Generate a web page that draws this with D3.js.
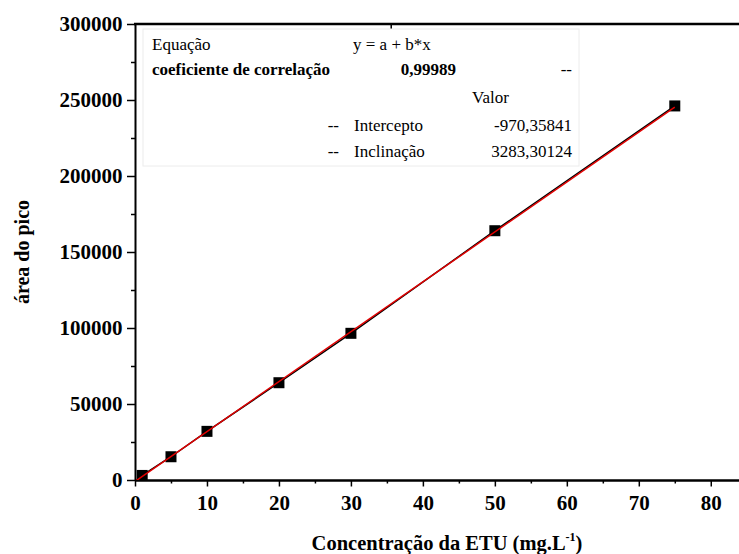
<!DOCTYPE html>
<html>
<head>
<meta charset="utf-8">
<script src="https://cdn.jsdelivr.net/npm/d3@7"></script>
<style>
  body { margin: 0; background: #fff; }
  svg text { font-family: "Liberation Serif", Tinos, "Times New Roman", Times, "DejaVu Serif", serif; }
</style>
</head>
<body>
<div id="app"></div>
<script>
const conc = [1, 5, 10, 20, 30, 50, 75]
const area = [3000, 15300, 32000, 64000, 96500, 164000, 246100]
const x_ticks = [0, 10, 20, 30, 40, 50, 60, 70, 80]
const y_ticks = [0, 50000, 100000, 150000, 200000, 250000, 300000]
const intercept = -970.35841
const slope = 3283.30124
const fit_range = [0, 75]

const serif = '"Liberation Serif", Tinos, "Times New Roman", Times, "DejaVu Serif", serif'

const width = 739
const height = 554

const x_scale = d3.scaleLinear().domain([0, 84.2]).range([135, 741])
const y_scale = d3.scaleLinear().domain([0, 300000]).range([480, 24])

const svg = d3.select('#app')
    .append('svg')
    .attr('width', width)
    .attr('height', height)
    .attr('viewBox', [0, 0, width, height])
    .attr('font-family', serif)

svg.append('clipPath')
    .attr('id', 'plot-clip')
    .append('rect')
    .attr('x', 135).attr('y', 24)
    .attr('width', 604).attr('height', 456)

// minor ticks
svg.append('g')
    .attr('transform', 'translate(0,480)')
    .call(d3.axisBottom(x_scale).tickValues(d3.range(5, 85, 10)).tickSize(3.5).tickFormat(''))
    .call(g => g.select('.domain').remove())
    .selectAll('line').attr('stroke-width', 1.5)

svg.append('g')
    .attr('transform', 'translate(135,0)')
    .call(d3.axisLeft(y_scale).tickValues(d3.range(25000, 300000, 50000)).tickSize(4).tickFormat(''))
    .call(g => g.select('.domain').remove())
    .selectAll('line').attr('stroke-width', 1.5)

// major axes
const x_axis = svg.append('g')
    .attr('transform', 'translate(0,480)')
    .call(d3.axisBottom(x_scale).tickValues(x_ticks).tickSize(6.5).tickSizeOuter(0).tickPadding(9))
    .attr('font-family', serif)
x_axis.select('.domain').attr('stroke-width', 2.5)
x_axis.selectAll('line').attr('stroke-width', 1.5)
x_axis.selectAll('text')
    .style('font-family', serif)
    .style('font-size', '21px')
    .style('font-weight', 'bold')
    .attr('fill', '#000')

const y_axis = svg.append('g')
    .attr('transform', 'translate(135,0)')
    .call(d3.axisLeft(y_scale).tickValues(y_ticks).tickSize(8).tickSizeOuter(0).tickPadding(4.5).tickFormat(d3.format('d')))
    .attr('font-family', serif)
y_axis.select('.domain').attr('stroke-width', 2)
y_axis.selectAll('line').attr('stroke-width', 1.5)
y_axis.selectAll('text')
    .style('font-family', serif)
    .style('font-size', '21px')
    .style('font-weight', 'bold')
    .attr('fill', '#000')

// top frame line
svg.append('line')
    .attr('x1', 134).attr('x2', 739)
    .attr('y1', y_scale(300000)).attr('y2', y_scale(300000))
    .attr('stroke', '#000').attr('stroke-width', 2.5)

svg.append('line')
    .attr('x1', x_scale(35.6)).attr('x2', x_scale(35.6))
    .attr('y1', y_scale(300000)).attr('y2', y_scale(300000) + 5)
    .attr('stroke', '#000').attr('stroke-width', 1.5)

// data line + points
const plot = svg.append('g').attr('clip-path', 'url(#plot-clip)')

const pts = conc.map((c, i) => ({x: c, y: area[i]}))

plot.append('path')
    .datum(pts)
    .attr('d', d3.line().x(d => x_scale(d.x)).y(d => y_scale(d.y)))
    .attr('fill', 'none')
    .attr('stroke', '#000')
    .attr('stroke-width', 1.5)

plot.append('g')
    .selectAll('rect')
    .data(pts)
    .join('rect')
    .attr('x', d => x_scale(d.x) - 5.5)
    .attr('y', d => y_scale(d.y) - 5.5)
    .attr('width', 11)
    .attr('height', 11)
    .attr('fill', '#000')

plot.append('path')
    .datum(fit_range)
    .attr('d', d3.line().x(d => x_scale(d)).y(d => y_scale(intercept + slope * d)))
    .attr('fill', 'none')
    .attr('stroke', '#e00000')
    .attr('stroke-width', 1.5)

// results table
const table = svg.append('g')
table.append('rect')
    .attr('x', 143).attr('y', 29)
    .attr('width', 436).attr('height', 137)
    .attr('fill', '#fff')
    .attr('stroke', '#ececec')
    .attr('stroke-width', 1)

const cells = [
    {t: 'Equação', x: 152, y: 50, a: 'start', b: false},
    {t: 'y = a + b*x', x: 353, y: 50, a: 'start', b: false},
    {t: 'coeficiente de correlação', x: 152, y: 75, a: 'start', b: true},
    {t: '0,99989', x: 456, y: 75, a: 'end', b: true},
    {t: '--', x: 572, y: 75, a: 'end', b: false},
    {t: 'Valor', x: 472, y: 103, a: 'start', b: false},
    {t: '--', x: 339, y: 131, a: 'end', b: false},
    {t: 'Intercepto', x: 354, y: 131, a: 'start', b: false},
    {t: '-970,35841', x: 572, y: 131, a: 'end', b: false},
    {t: '--', x: 339, y: 157, a: 'end', b: false},
    {t: 'Inclinação', x: 354, y: 157, a: 'start', b: false},
    {t: '3283,30124', x: 572, y: 157, a: 'end', b: false}
]

table.selectAll('text')
    .data(cells)
    .join('text')
    .attr('x', d => d.x)
    .attr('y', d => d.y)
    .attr('text-anchor', d => d.a)
    .style('font-family', serif)
    .style('font-size', '17px')
    .style('font-weight', d => d.b ? 'bold' : 'normal')
    .text(d => d.t)

// axis titles
svg.append('text')
    .attr('transform', 'translate(29,252) rotate(-90)')
    .attr('text-anchor', 'middle')
    .style('font-family', serif)
    .style('font-size', '20px')
    .style('font-weight', 'bold')
    .text('área do pico')

const xt = svg.append('text')
    .attr('x', 447)
    .attr('y', 550)
    .attr('text-anchor', 'middle')
    .style('font-family', serif)
    .style('font-size', '20.5px')
    .style('font-weight', 'bold')
xt.append('tspan').text('Concentração da ETU (mg.L')
xt.append('tspan').attr('dy', -9).style('font-size', '12px').text('-1')
xt.append('tspan').attr('dy', 9).text(')')
</script>
</body>
</html>
